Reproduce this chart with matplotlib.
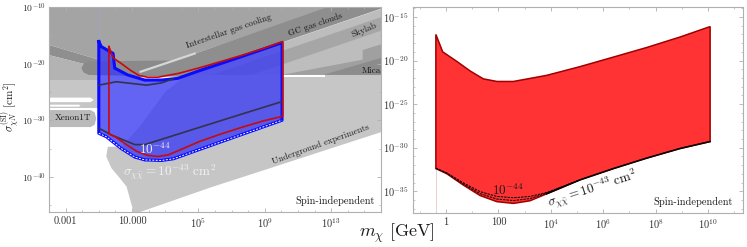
import numpy as np
import matplotlib.pyplot as plt
from matplotlib.ticker import FixedLocator, NullFormatter

plt.rcParams['mathtext.fontset'] = 'cm'
plt.rcParams['font.family'] = ['cmr10', 'DejaVu Serif']
plt.rcParams['axes.formatter.use_mathtext'] = True

# ---------------- data (log10 m [GeV], log10 sigma [cm^2]) ----------------
# red region (right panel, outline repeated in left panel)
red_up_lm = [-0.39, -0.13, 0.41, 0.92, 1.42, 1.94, 2.57, 3.84, 5.11, 6.39, 7.66, 8.93, 10.08]
red_up_ls = [-17.0, -19.0, -20.1, -21.2, -22.1, -22.4, -22.4, -21.7, -20.7, -19.6, -18.5, -17.3, -16.1]
red_lo_lm = [-0.39, 0.03, 0.66, 1.30, 1.94, 2.57, 3.20, 3.84, 5.11, 6.39, 7.66, 8.93, 10.08]
red_lo_ls = [-32.4, -33.0, -34.3, -35.5, -36.2, -36.4, -36.1, -35.3, -33.7, -32.4, -31.2, -30.1, -29.3]
# annihilation curves sigma_xx = 1e-44 and 1e-43 (first masses of red_lo_lm)
ann44_ls = [-32.35, -32.9, -34.05, -35.05, -35.6, -35.75, -35.6, -35.15, -33.7]
ann43_ls = [-32.38, -32.95, -34.18, -35.28, -35.9, -36.07, -35.85, -35.22, -33.7]

# blue region (left panel)
blue_up_lm = [-1.0, -0.85, -0.14, -0.04, 0.74, 1.77, 2.78, 3.76, 5.11, 7.66, 10.04]
blue_up_ls = [-16.1, -17.0, -18.2, -20.8, -22.0, -22.9, -22.9, -22.6, -21.2, -18.7, -16.3]
blue_lo_lm = [-1.0, -0.55, 0.36, 1.17, 1.77, 2.78, 3.5, 5.7, 10.04]
blue_lo_ls = [-32.3, -32.9, -35.0, -36.5, -37.0, -37.1, -36.8, -34.5, -30.0]
dark1_lm = [-1.0, 0.06, 1.87, 2.78, 3.46]
dark1_ls = [-23.8, -23.2, -23.8, -23.4, -22.7]
dark2_lm = [-1.0, -0.24, 1.17, 1.77, 7.08, 10.04]
dark2_ls = [-31.4, -32.6, -34.3, -34.3, -29.4, -26.7]

# excluded regions (left panel)
ism = ([-4, 13, 1.5, -4], [-10, -10, -21.5, -16.7])
ism_band = ([-4, 1.5, 1.5, -4], [-16.7, -21.5, -22.6, -18.5])
blob = ([-1.6, 5.0, 5.0, -1.6, -1.9, -2.05, -1.9], [-19.6, -19.4, -22.4, -22.0, -21.6, -20.8, -20.0])
left_mid = ([-4, -1, -1, -4], [-18.5, -20.7, -22.9, -22.9])
left_low = ([-4, -1, -1, -4], [-22.9, -22.9, -27.9, -27.9])
stripe1 = ([-4, -1.5, -1.3, -1.5, -4], [-26.0, -26.0, -26.4, -26.8, -26.8])
stripe2 = ([-4, -2.2, -2.1, -2.2, -4], [-27.25, -27.25, -27.4, -27.6, -27.6])
xenon = ([-4, -1.5, -1.25, -1.15, -1.25, -1.5, -4], [-28.2, -28.2, -28.6, -29.7, -30.8, -31.2, -31.2])
right_light = ([4.3, 16, 16], [-22, -22, -10.3])
gc = ([1.5, 12.9, 16, 16, 4.3, 1.5], [-21.6, -9.9, -9.9, -10.3, -22, -22])
skylab = ([5.8, 16, 16, 8.2], [-22, -11.8, -14.2, -22])
right_dark = ([10.0, 14.9, 14.9, 16, 16], [-22, -19.3, -17.6, -16.6, -22])
mica = ([12.5, 16, 16], [-22, -19, -22])
under = ([-0.46, 0.4, 1.5, 3.0, 4.3, 16, 16, 5.7, 1.2, 1.07, 1.06, 0.86, 0.67, 0.26, -0.24, -0.55],
         [-34.7, -34.6, -31, -25, -22.0, -22.0, -32.1, -41.9, -46.5, -46.5, -45.8, -43.7,
          -41.7, -40.2, -38.45, -36.4])
white_strip = ([10.05, 12.6, 12.6, 10.05], [-21.95, -21.95, -22.3, -22.3])
ism_streak = ([1.5, 4.8], [-21.45, -18.2])

gray_layers = [
    (ism, '#a4a4a4'), (ism_band, '#8f8f8f'), (left_mid, '#b3b3b3'), (left_low, '#c6c6c6'),
    (stripe1, 'white'), (stripe2, 'white'), (xenon, '#bababa'), (blob, '#8a8a8a'),
    (right_light, '#bdbdbd'), (gc, '#8e8e8e'), (skylab, '#a6a6a6'), (right_dark, '#a0a0a0'),
    (mica, '#8c8c8c'), (under, '#c6c6c6'), (white_strip, 'white'),
]


def p(v):
    return 10.0 ** np.asarray(v, dtype=float)


fig = plt.figure(figsize=(7.47, 2.47), dpi=100)
ax1 = fig.add_axes([0.0656, 0.1417, 0.4444, 0.830])
ax2 = fig.add_axes([0.553, 0.1377, 0.4418, 0.834])

frame = '#b0b0b0'
for ax in (ax1, ax2):
    ax.set_xscale('log')
    ax.set_yscale('log')
    for s in ax.spines.values():
        s.set_color(frame)
        s.set_linewidth(0.8)
    ax.tick_params(which='both', direction='in', top=True, right=True, color=frame,
                   labelsize=7.5, labelcolor='#333333', pad=3)
    ax.tick_params(which='major', length=3, width=0.6)
    ax.tick_params(which='minor', length=1.6, width=0.5)

# ---------------- left panel ----------------
for (lm, ls), c in gray_layers:
    ax1.fill(p(lm), p(ls), color=c, lw=0, zorder=1)
ax1.plot(p(ism_streak[0]), p(ism_streak[1]), color='#d6d6d6', lw=1.6, zorder=1.5,
         solid_capstyle='round')

ax1.plot(p([-1.0, -1.0]), p([-10, -16.1]), color='#9fa6c8', lw=0.5, zorder=1.6)

blue_lm = blue_up_lm + blue_lo_lm[::-1]
blue_ls = blue_up_ls + blue_lo_ls[::-1]
ax1.fill(p(blue_lm), p(blue_ls), facecolor='#3d3df2', alpha=0.8, lw=0, zorder=2)
ax1.plot(p(blue_lm + [blue_lm[0]]), p(blue_ls + [blue_ls[0]]), color='#0a0aff', lw=2.2, zorder=3)
ax1.plot(p(blue_lo_lm), p(blue_lo_ls), color='white', lw=0.7, ls=(0, (2, 1.5)), zorder=3.5)
ax1.plot(p(dark1_lm), p(dark1_ls), color='#33334d', lw=1.2, zorder=3)
ax1.plot(p(dark2_lm), p(dark2_ls), color='#33334d', lw=1.2, zorder=3)

red_lm = red_up_lm + red_lo_lm[::-1]
red_ls = red_up_ls + red_lo_ls[::-1]
ax1.plot(p(red_lm + [red_lm[0]]), p(red_ls + [red_ls[0]]), color='#c80a0a', lw=1.2, zorder=4)

tkw = dict(fontsize=6.5, color='#1a1a1a', ha='center', va='center', zorder=6)
ax1.text(p(6.84), p(-14.4), 'Interstellar gas cooling', rotation=19, **tkw)
ax1.text(p(12.04), p(-13.2), 'GC gas clouds', rotation=19, **tkw)
ax1.text(p(15.0), p(-14.1), 'Skylab', rotation=22, **tkw)
ax1.text(p(15.4), p(-21.2), 'Mica', rotation=0, **tkw)
ax1.text(p(-2.58), p(-29.6), 'Xenon1T', rotation=0, **tkw)
ax1.text(p(12.4), p(-34.3), 'Underground experiments', rotation=20, **tkw)
ax1.text(p(2.37), p(-35.2), r'$10^{-44}$', fontsize=9.5, color='#f2f2f2', ha='center',
         va='center', zorder=6)
ax1.text(p(3.28), p(-39.1), r'$\sigma_{\chi\bar{\chi}}=10^{-43}\ \mathrm{cm}^2$', fontsize=9.5,
         color='#f2f2f2', ha='center', va='center', zorder=6)
ax1.text(0.982, 0.054, 'Spin-independent', transform=ax1.transAxes, fontsize=7.5,
         ha='right', va='center', color='#1a1a1a', zorder=6)

ax1.set_xlim(1e-4, 1e16)
ax1.set_ylim(p(-46.2), 1e-10)
ax1.xaxis.set_major_locator(FixedLocator([1e-3, 1e1, 1e5, 1e9, 1e13]))
ax1.set_xticklabels(['0.001', '10.000', r'$10^5$', r'$10^9$', r'$10^{13}$'])
ax1.xaxis.set_minor_locator(FixedLocator(p(np.arange(-4, 17, 1))))
ax1.xaxis.set_minor_formatter(NullFormatter())
ax1.yaxis.set_major_locator(FixedLocator([1e-40, 1e-30, 1e-20, 1e-10]))
ax1.set_yticklabels([r'$10^{-40}$', r'$10^{-30}$', r'$10^{-20}$', r'$10^{-10}$'])
ax1.yaxis.set_minor_locator(FixedLocator(p(np.arange(-45, -10, 5))))
ax1.yaxis.set_minor_formatter(NullFormatter())
ax1.tick_params(axis='y', labelsize=7, pad=2)

# ---------------- right panel ----------------
ax2.plot(p([-0.39, -0.39]), p([-37.5, -32.4]), color='#e8c8c8', lw=0.6, zorder=1)
ax2.fill(p(red_lm), p(red_ls), facecolor='#ff3333', edgecolor='#a00000', lw=1.1, zorder=2)
ax2.plot(p(red_lo_lm[7:]), p(red_lo_ls[7:]), color='black', lw=1.1, zorder=3)
ax2.plot(p(red_lo_lm[:9]), p(ann44_ls), color='black', lw=0.7, ls=(0, (2.5, 1)), zorder=3)
ax2.plot(p(red_lo_lm[:9]), p(ann43_ls), color='black', lw=0.7, ls=(0, (2.5, 1)), zorder=3)
ax2.text(p(2.37), p(-34.9), r'$10^{-44}$', fontsize=9.5, color='#1a1a1a', ha='center',
         va='center', zorder=6)
ax2.text(p(5.6), p(-34.8), r'$\sigma_{\chi\bar{\chi}}=10^{-43}\ \mathrm{cm}^2$', fontsize=9.5,
         rotation=18, color='#1a1a1a', ha='center', va='center', zorder=6)
ax2.text(0.97, 0.051, 'Spin-independent', transform=ax2.transAxes, fontsize=7.5,
         ha='right', va='center', color='#1a1a1a', zorder=6)

ax2.set_xlim(p(-1.26), p(11.34))
ax2.set_ylim(p(-37.5), p(-13.85))
ax2.xaxis.set_major_locator(FixedLocator([1, 1e2, 1e4, 1e6, 1e8, 1e10]))
ax2.set_xticklabels(['1', '100', r'$10^4$', r'$10^6$', r'$10^8$', r'$10^{10}$'])
ax2.xaxis.set_minor_locator(FixedLocator(p(np.arange(-1, 12, 1))))
ax2.xaxis.set_minor_formatter(NullFormatter())
ax2.yaxis.set_major_locator(FixedLocator([1e-35, 1e-30, 1e-25, 1e-20, 1e-15]))
ax2.set_yticklabels([r'$10^{-35}$', r'$10^{-30}$', r'$10^{-25}$', r'$10^{-20}$', r'$10^{-15}$'])
ax2.yaxis.set_minor_locator(FixedLocator(p(np.arange(-37, -13, 1))))
ax2.yaxis.set_minor_formatter(NullFormatter())

fig.text(0.0148, 0.57, r'$\sigma^{\mathrm{(SI)}}_{\chi N}\ [\mathrm{cm}^2]$', rotation=90,
         ha='center', va='center', fontsize=8, color='#1a1a1a')
fig.text(0.531, 0.057, r'$m_\chi\ [\mathrm{GeV}]$', ha='center', va='center', fontsize=13,
         color='#1a1a1a')

fig.savefig('out.png', dpi=100)
